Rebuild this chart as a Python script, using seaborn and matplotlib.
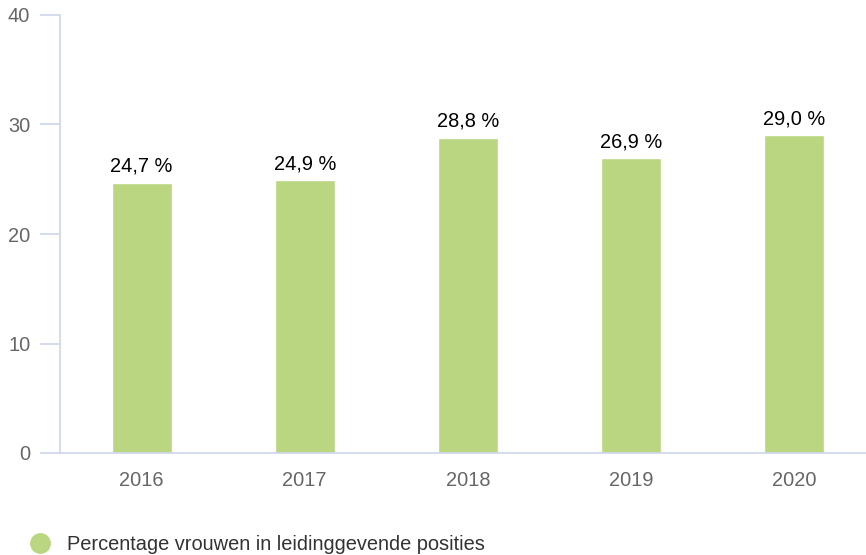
import matplotlib
matplotlib.use("Agg")
import matplotlib.pyplot as plt
from matplotlib.lines import Line2D
import seaborn as sns
import pandas as pd

years = ["2016", "2017", "2018", "2019", "2020"]
values = [24.7, 24.9, 28.8, 26.9, 29.0]
labels = ["24,7 %", "24,9 %", "28,8 %", "26,9 %", "29,0 %"]
series_name = "Percentage vrouwen in leidinggevende posities"
yticks = [0, 10, 20, 30, 40]

sns.set_theme(style="white")
plt.rcParams['font.family'] = ['Liberation Sans', 'DejaVu Sans']

BAR = "#bad680"
AXC = "#ccd6eb"
FS = 14.4

fig = plt.figure(figsize=(8.66, 5.55), dpi=100)
ax = fig.add_axes([60/866, 1-453/555, 1-60/866, (453-15)/555])

df = pd.DataFrame({"year": years, "value": values})
sns.barplot(data=df, x="year", y="value", color=BAR, saturation=1, width=0.368, ax=ax)

ax.set_xlim(-0.5, 4.44)
ax.set_ylim(0, 40)
ax.set_yticks(yticks)
ax.set_xlabel("")
ax.set_ylabel("")

for s in ["top", "right"]:
    ax.spines[s].set_visible(False)
for s in ["left", "bottom"]:
    ax.spines[s].set_color(AXC)
    ax.spines[s].set_linewidth(1.2)

ax.tick_params(axis="y", length=14.4, width=1.2, color=AXC, labelcolor="#666666",
               labelsize=FS, pad=7, left=True)
ax.tick_params(axis="x", length=0, labelcolor="#666666", labelsize=FS, pad=13)

for i, (v, lab) in enumerate(zip(values, labels)):
    ax.annotate(lab, (i, v), xytext=(0, 5), textcoords="offset points",
                ha="center", va="bottom", fontsize=FS, color="#000000")

handle = Line2D([], [], marker="o", linestyle="none", markersize=14,
                markerfacecolor=BAR, markeredgecolor=BAR)
fig.legend([handle], [series_name], loc="center left",
           bbox_to_anchor=(28/866, 1-544/555), frameon=False,
           fontsize=FS, handletextpad=0.75, borderaxespad=0, borderpad=0,
           labelcolor="#333333", handlelength=1.2)

fig.savefig("out.png", dpi=100)
